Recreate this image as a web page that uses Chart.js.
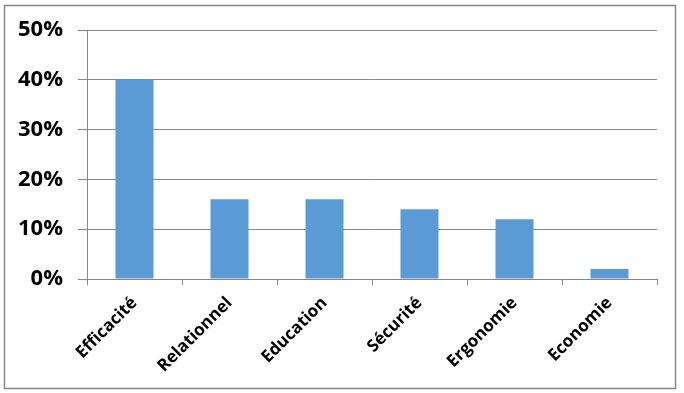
<!DOCTYPE html>
<html>
<head>
<meta charset="utf-8">
<script src="https://cdn.jsdelivr.net/npm/chart.js@4.4.1/dist/chart.umd.min.js"></script>
<style>
  html, body { margin: 0; padding: 0; background: #fff; }
  #wrap { width: 684px; height: 393px; position: relative; }
</style>
</head>
<body>
<div id="wrap"><canvas id="chart" width="684" height="393"></canvas></div>
<script>
// categories and values
const categories = ["Efficacité", "Relationnel", "Education", "Sécurité", "Ergonomie", "Economie"];
const shares = [40, 16, 16, 14, 12, 2];
const yTicks = [0, 10, 20, 30, 40, 50];

const GREY = "#868686";
const FONT = "'Open Sans', 'DejaVu Sans', sans-serif";

// outer frame like the spreadsheet chart border
const framePlugin = {
    id: "frame",
    beforeDraw: function (chart) {
        const c = chart.ctx;
        c.save();
        c.fillStyle = "#fff";
        c.fillRect(0, 0, chart.width, chart.height);
        c.strokeStyle = GREY;
        c.lineWidth = 1.5;
        c.strokeRect(4.5, 5.5, 671, 383);
        c.restore();
    }
};

new Chart(document.getElementById("chart").getContext("2d"), {
    type: "bar",
    data: {
        labels: categories,
        datasets: [{
            data: shares,
            backgroundColor: "#5B9BD5",
            categoryPercentage: 1,
            barPercentage: 0.4
        }]
    },
    plugins: [framePlugin],
    options: {
        responsive: false,
        animation: false,
        layout: { padding: { left: 0, right: 27, top: 30, bottom: 0 } },
        plugins: { legend: { display: false }, tooltip: { enabled: false } },
        scales: {
            x: {
                grid: { drawOnChartArea: false, color: GREY, tickLength: 6, offset: true },
                border: { color: GREY, width: 1 },
                ticks: {
                    minRotation: 45, maxRotation: 45,
                    color: "#000",
                    padding: 8,
                    font: { family: FONT, size: 17, weight: "bold" }
                },
                afterFit: function (scale) { scale.height = 114; }
            },
            y: {
                min: 0, max: 50,
                afterBuildTicks: function (scale) { scale.ticks = yTicks.map(v => ({ value: v })); },
                grid: { color: GREY, tickLength: 9 },
                border: { color: GREY, width: 1 },
                ticks: {
                    color: "#000",
                    padding: 15,
                    font: { family: FONT, size: 22, weight: "bold" },
                    callback: function (v) { return v + "%"; }
                },
                afterFit: function (scale) { scale.width = 87; }
            }
        }
    }
});
</script>
</body>
</html>
